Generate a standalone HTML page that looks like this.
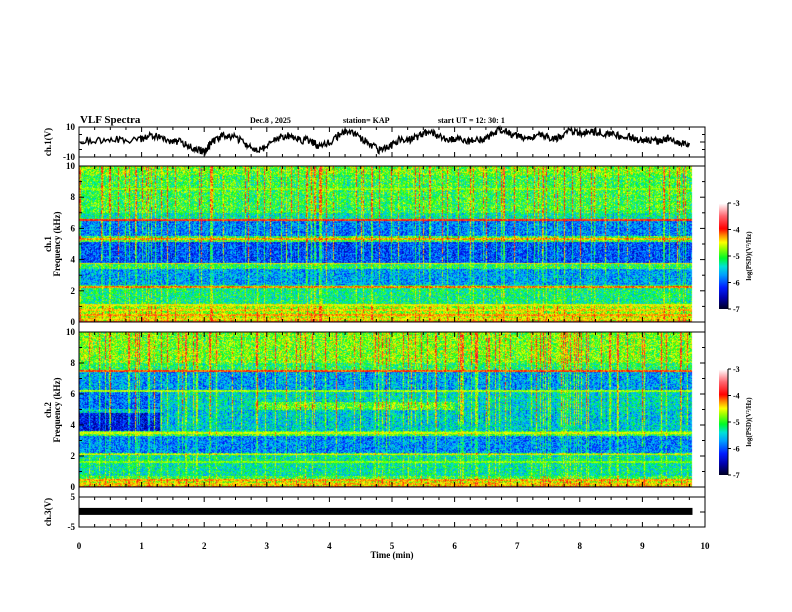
<!DOCTYPE html>
<html><head><meta charset="utf-8">
<style>
html,body{margin:0;padding:0;background:#fff;}
#root{position:relative;width:792px;height:612px;overflow:hidden;font-family:"Liberation Serif",serif;}
canvas{position:absolute;}
svg{position:absolute;left:0;top:0;}
text{font-family:"Liberation Serif",serif;font-weight:bold;fill:#000;}
</style></head>
<body>
<div id="root">
<canvas id="spec1" width="614" height="156" style="left:79px;top:166px;width:614px;height:156px"></canvas>
<canvas id="spec2" width="614" height="155" style="left:79px;top:332px;width:614px;height:155px"></canvas>
<canvas id="cb1" width="9" height="106" style="left:719px;top:203px;width:9px;height:106px"></canvas>
<canvas id="cb2" width="9" height="106" style="left:719px;top:369px;width:9px;height:106px"></canvas>
<svg id="axes" width="792" height="612"></svg>
</div>
<script>
// ---------- data ----------
const waveTimes=[0.02,0.33,0.65,0.97,1.13,1.29,1.45,1.61,1.77,1.93,2.01,2.09,2.24,2.40,2.56,2.72,2.88,3.04,3.20,3.35,3.51,3.67,3.83,3.99,4.15,4.31,4.47,4.63,4.79,4.95,5.11,5.27,5.43,5.59,5.75,5.91,6.07,6.23,6.39,6.55,6.71,6.87,7.03,7.19,7.35,7.51,7.67,7.83,7.99,8.15,8.31,8.47,8.63,8.79,8.95,9.11,9.27,9.43,9.59,9.75];
const waveValues=[1.3,0.7,2.0,1.3,4.7,3.3,0,0.7,-2.7,-5.3,-6.7,-1.3,3.3,4.7,1.3,-2.7,-5.3,-2,3.3,4,1.3,1.3,-2.7,-0.7,4.7,8,3.3,-0.7,-5.3,-3.3,1.3,1.3,4,6.7,4,2,2,0.7,1.3,3.3,8,6,3.3,3.3,4.7,2.7,2.7,7.3,6,7.3,6.7,5.3,4,3.3,1.3,1.3,0,3.3,-0.7,-0.7];
const ch3Value=0.2;
const spec1BandTops=[10,9.4,7.0,6.6,5.5,5.1,3.8,3.4,2.4,1.0,0.5];
const spec1BandLevels=[-4.8,-5.0,-5.3,-5.8,-5.0,-6.0,-5.1,-5.7,-5.2,-4.7,-4.6];
const spec1LineFreqs=[6.55,5.3,3.75,2.25,1.1,0.75,0.45,0.2,0.02,8.5];
const spec1LineLevels=[-4.0,-4.3,-4.5,-4.2,-4.5,-4.4,-4.3,-4.5,-3.9,-4.8];
const spec1Bursts=[0.35,0.62,0.9,1.4,1.75,1.95,2.3,2.7,3.05,3.3,3.62,3.95,4.05,4.5,4.8,5.1,5.5,5.8,6.25,6.5,6.95,7.4,7.75,8.0,8.4,8.75,9.1,9.55];
const spec1BurstLevels=[-4.2,-4.0,-4.3,-4.1,-4.4,-3.9,-4.3,-4.0,-4.2,-4.4,-4.1,-3.8,-4.2,-4.3,-4.0,-4.3,-4.2,-3.9,-4.3,-4.1,-4.0,-4.3,-4.2,-3.9,-4.2,-4.3,-4.0,-4.1];
const spec2BandTops=[10,8.0,7.4,6.2,5.0,4.8,3.6,3.3,2.2,2.05,0.7,0.5];
const spec2BandLevels=[-4.8,-5.1,-5.7,-5.9,-5.5,-6.3,-5.0,-5.8,-4.9,-5.3,-5.0,-4.6];
const spec2LineFreqs=[7.5,6.2,3.5,2.1,1.6,0.45,0.2,0.02];
const spec2LineLevels=[-4.1,-4.7,-4.6,-4.5,-4.8,-4.3,-4.4,-4.0];
const spec2PatchT0=[1.3,1.3,2.8];
const spec2PatchT1=[9.8,9.8,6.0];
const spec2PatchF0=[3.6,5.0,5.0];
const spec2PatchF1=[4.8,6.2,5.5];
const spec2PatchLevels=[-5.5,-5.4,-4.9];
const spec2Bursts=[0.5,0.9,1.2,1.65,2.1,2.45,2.85,3.3,3.75,4.1,4.4,4.9,5.3,5.7,6.1,6.5,6.8,7.3,7.7,8.1,8.6,9.0,9.3,9.6];
const spec2BurstLevels=[-4.2,-4.0,-4.3,-4.2,-4.1,-4.3,-4.0,-4.2,-4.3,-3.9,-4.2,-4.1,-4.3,-4.0,-4.2,-4.1,-4.3,-4.0,-4.2,-4.1,-4.3,-4.0,-4.2,-4.1];
const xTicks=[0,1,2,3,4,5,6,7,8,9,10];
const cbTicks=[-3,-4,-5,-6,-7];

// ---------- scales ----------
const X0=79,X1=705;
const xs=t=>X0+(X1-X0)*t/10;
const P={wave:[127,157],s1:[166,322],s2:[332,487],c3:[497,527]};
function hash(a,b){let h=(a*374761393+b*668265263)|0;h=(h^(h>>>13))*1274126177|0;return ((h^(h>>>16))>>>0)/4294967295;}
const stops=[[0,[0,0,40]],[0.1,[0,0,170]],[0.2,[0,30,255]],[0.32,[0,160,255]],[0.4,[0,225,215]],[0.48,[0,250,40]],[0.57,[150,255,0]],[0.63,[255,255,0]],[0.7,[255,130,0]],[0.76,[255,0,0]],[0.88,[255,100,110]],[1,[255,255,255]]];
function cmap(v){let t=Math.max(0,Math.min(1,(v+7)/4));for(let i=1;i<stops.length;i++){if(t<=stops[i][0]){const a=stops[i-1],b=stops[i],f=(t-a[0])/(b[0]-a[0]);return a[1].map((c,k)=>Math.round(c+(b[1][k]-c)*f));}}return [255,255,255];}

function drawSpec(id,tops,levels,lf,ll,bursts,bl,patches,seed){
 const c=document.getElementById(id),ctx=c.getContext('2d'),W=c.width,H=c.height;
 const img=ctx.createImageData(W,H);
 const bx=bursts.map(b=>Math.round(xs(b)-X0));
 for(let x=0;x<W;x++){
  const t=(x+0.5)/(X1-X0)*10;
  const hc=hash(x,seed);
  const colN=(hc-0.5)*0.4+(hc>0.88?0.6:0);
  let burst=-99;for(let i=0;i<bx.length;i++){if(bx[i]===x)burst=Math.max(burst,bl[i]);}
  for(let y=0;y<H;y++){
   const f=10*(1-(y+0.5)/H);
   let lev=levels[0];
   for(let i=0;i<tops.length;i++){if(f<=tops[i])lev=levels[i];}
   if(patches){for(let i=0;i<patches[0].length;i++){if(t>=patches[0][i]&&t<=patches[1][i]&&f>=patches[2][i]&&f<=patches[3][i])lev=patches[4][i];}}
   const colW=f>4?1:0.6;
   let v=lev+colN*colW+(hash(x*7+y,seed+y)-0.5)*1.0;
   for(let i=0;i<lf.length;i++){if(Math.abs(f-lf[i])<0.06)v=Math.max(v,ll[i]+(hash(x,y+i)-0.5)*0.5);}
   if(burst>-99){const fall=f>5?0:(5-f)*0.4;if(hash(y,x+seed)>0.25)v=Math.max(v,burst-fall+(hash(y,x)-0.5)*0.7);}
   const col=cmap(v),k=(y*W+x)*4;
   img.data[k]=col[0];img.data[k+1]=col[1];img.data[k+2]=col[2];img.data[k+3]=255;
  }
 }
 ctx.putImageData(img,0,0);
 ctx.clearRect(xs(9.8)-X0,0,W,H);
}
drawSpec('spec1',spec1BandTops,spec1BandLevels,spec1LineFreqs,spec1LineLevels,spec1Bursts,spec1BurstLevels,null,11);
drawSpec('spec2',spec2BandTops,spec2BandLevels,spec2LineFreqs,spec2LineLevels,spec2Bursts,spec2BurstLevels,[spec2PatchT0,spec2PatchT1,spec2PatchF0,spec2PatchF1,spec2PatchLevels],23);
['cb1','cb2'].forEach(id=>{const c=document.getElementById(id),ctx=c.getContext('2d');for(let y=0;y<c.height;y++){const v=-3-4*y/(c.height-1);const col=cmap(v);ctx.fillStyle='rgb('+col.join(',')+')';ctx.fillRect(0,y,c.width,1);}});

// ---------- svg ----------
const NS='http://www.w3.org/2000/svg',svg=document.getElementById('axes');
function el(tag,attrs,parent){const e=document.createElementNS(NS,tag);for(const k in attrs)e.setAttribute(k,attrs[k]);(parent||svg).appendChild(e);return e;}
function txt(s,x,y,size,anchor,rot){const e=el('text',{x:x,y:y,'font-size':size,'text-anchor':anchor||'start'});if(rot)e.setAttribute('transform','rotate(-90 '+x+' '+y+')');e.textContent=s;return e;}

let t;
t=txt('VLF Spectra',80,123,11);
t=txt('Dec.8  , 2025',250,123,8);
t=txt('station= KAP',343,123,8);
t=txt('start  UT  =    12: 30: 1',438,123,8);

Object.keys(P).forEach(k=>{const r=el('rect',{x:X0,y:P[k][0],width:X1-X0,height:P[k][1]-P[k][0],fill:'none',stroke:'#000','stroke-width':1});});
el('line',{x1:X0,y1:127,x2:X0,y2:527,stroke:'#000'});
el('line',{x1:X1,y1:127,x2:X1,y2:527,stroke:'#000'});
Object.keys(P).forEach(k=>{for(let i=0;i<=40;i++){const x=xs(i/4),len=i%4==0?5:3;el('line',{x1:x,y1:P[k][0],x2:x,y2:P[k][0]+len,stroke:'#000','stroke-width':1});el('line',{x1:x,y1:P[k][1],x2:x,y2:P[k][1]-len,stroke:'#000','stroke-width':1});}});
xTicks.forEach(v=>{const e=txt(String(v),xs(v),549,9,'middle');});
t=txt('Time  (min)',xs(5),558,9,'middle');

function yticks(k,vmin,vmax,major,minor,labels){const [a,b]=P[k];const ys=v=>b-(v-vmin)/(vmax-vmin)*(b-a);
 for(let v=vmin;v<=vmax+1e-9;v+=minor){const isM=Math.abs(v/major-Math.round(v/major))<1e-6;const len=isM?5:3;el('line',{x1:X0,y1:ys(v),x2:X0+len,y2:ys(v),stroke:'#000'});el('line',{x1:X1,y1:ys(v),x2:X1-len,y2:ys(v),stroke:'#000'});}
 labels.forEach(v=>{const e=txt(String(v),X0-4,ys(v)+3,9,'end');});
 return ys;}
const yw=yticks('wave',-10,10,10,5,[10,-10]);
yticks('s1',0,10,2,1,[0,2,4,6,8,10]);
yticks('s2',0,10,2,1,[0,2,4,6,8,10]);
const y3=yticks('c3',-5,5,5,5,[5,-5]);
t=txt('ch.1(V)',51,142,9,'middle',true);
t=txt('ch.1',51,244,9,'middle',true);
txt('Frequency  (kHz)',60,244,9,'middle',true);
t=txt('ch.2',51,410,9,'middle',true);
txt('Frequency  (kHz)',60,410,9,'middle',true);
t=txt('ch.3(V)',51,512,9,'middle',true);

let pts=[];
for(let i=0;i<waveTimes.length-1;i++){const n=14;for(let j=0;j<n;j++){const tt=waveTimes[i]+(waveTimes[i+1]-waveTimes[i])*j/n;const v=waveValues[i]+(waveValues[i+1]-waveValues[i])*j/n+(hash(i*n+j,5)-0.5)*5;pts.push(xs(tt).toFixed(1)+','+Math.max(127,Math.min(157,yw(v))).toFixed(1));}}
pts.push(xs(waveTimes[waveTimes.length-1]).toFixed(1)+','+yw(waveValues[waveValues.length-1]).toFixed(1));
const wl=el('polyline',{points:pts.join(' '),fill:'none',stroke:'#000','stroke-width':1.4});


const cb=el('rect',{x:X0,y:y3(ch3Value)-3.5,width:xs(9.8)-X0,height:7,fill:'#000'});



[[203,309],[369,475]].forEach((r,ci)=>{cbTicks.forEach((v,i)=>{const y=r[0]+(r[1]-r[0])*i/4;el('line',{x1:728,y1:y,x2:731,y2:y,stroke:'#000'});const e=txt(String(v),733,y+3,8);});
 el('line',{x1:728,y1:r[0],x2:728,y2:r[1],stroke:'#000'});
 const e=txt('log(PSD)(V\u00B2/Hz)',751,(r[0]+r[1])/2,7,'middle',true);});
</script>
</body></html>
